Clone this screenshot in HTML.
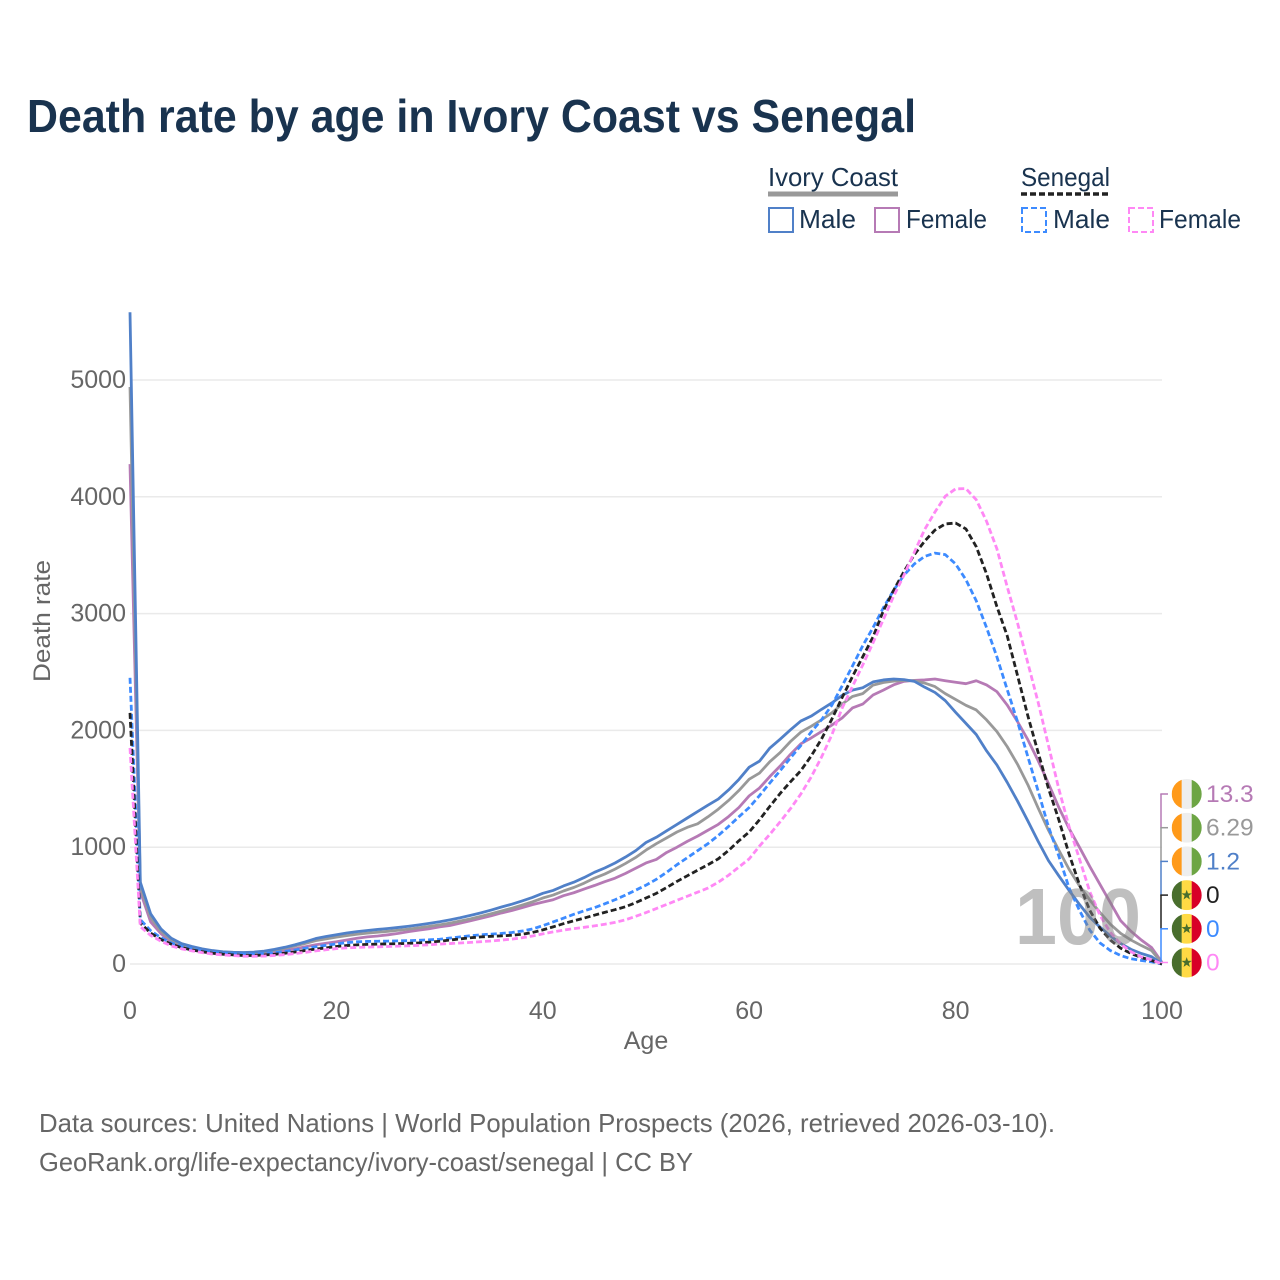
<!DOCTYPE html>
<html lang="en">
<head>
<meta charset="utf-8">
<title>Death rate by age in Ivory Coast vs Senegal</title>
<style>
  html, body { margin: 0; padding: 0; background: #fff; }
  svg { display: block; font-family: "Liberation Sans", "DejaVu Sans", sans-serif; }
</style>
</head>
<body>
<svg id="chart" xmlns="http://www.w3.org/2000/svg" width="1280" height="1280" viewBox="0 0 1280 1280">
  <rect x="0" y="0" width="1280" height="1280" fill="#fff"/>
  <text x="27" y="132" font-size="46" font-weight="700" fill="#19334f" textLength="889" lengthAdjust="spacingAndGlyphs">Death rate by age in Ivory Coast vs Senegal</text>

  <g fill="#19334f" font-size="26">
    <text x="768" y="186" textLength="130" lengthAdjust="spacingAndGlyphs">Ivory Coast</text>
    <line x1="768" x2="898" y1="194" y2="194" stroke="#999" stroke-width="5"/>
    <text x="1021" y="186" textLength="89" lengthAdjust="spacingAndGlyphs">Senegal</text>
    <line x1="1021" x2="1110" y1="194" y2="194" stroke="#222" stroke-width="3.5" stroke-dasharray="6 3"/>

    <rect x="769" y="208" width="24" height="24" fill="none" stroke="#5080c8" stroke-width="2"/>
    <text x="799" y="228" textLength="57" lengthAdjust="spacingAndGlyphs">Male</text>
    <rect x="875" y="208" width="24" height="24" fill="none" stroke="#b67ab5" stroke-width="2"/>
    <text x="906" y="228" textLength="81" lengthAdjust="spacingAndGlyphs">Female</text>
    <rect x="1022" y="208" width="24" height="24" fill="none" stroke="#3d8bff" stroke-width="2" stroke-dasharray="6 3"/>
    <text x="1053" y="228" textLength="57" lengthAdjust="spacingAndGlyphs">Male</text>
    <rect x="1129" y="208" width="24" height="24" fill="none" stroke="#ff88f5" stroke-width="2" stroke-dasharray="6 3"/>
    <text x="1159" y="228" textLength="82" lengthAdjust="spacingAndGlyphs">Female</text>
  </g>

  <g id="grid"></g>
  <g id="yTicks"></g>
  <g id="xTicks"></g>
  <text transform="translate(50 621) rotate(-90)" text-anchor="middle" font-size="24" fill="#666" textLength="122" lengthAdjust="spacingAndGlyphs">Death rate</text>
  <text x="646" y="1049" text-anchor="middle" font-size="25" fill="#666">Age</text>

  <g id="series"></g>
  <text x="1015" y="944" font-size="80" font-weight="700" fill="#808080" fill-opacity="0.5" textLength="126" lengthAdjust="spacingAndGlyphs">100</text>
  <g id="endLabels"></g>

  <text x="39" y="1132" font-size="26" fill="#666" textLength="1016" lengthAdjust="spacingAndGlyphs">Data sources: United Nations | World Population Prospects (2026, retrieved 2026-03-10).</text>
  <text x="39" y="1171" font-size="26" fill="#666" textLength="654" lengthAdjust="spacingAndGlyphs">GeoRank.org/life-expectancy/ivory-coast/senegal | CC BY</text>
</svg>
<script>
var yTickValues = [0, 1000, 2000, 3000, 4000, 5000];
var xTickValues = [0, 20, 40, 60, 80, 100];

var icMale = [
  5580,700,430,300,220,175,150,130,115,105,
  100,98,102,110,125,143,165,190,218,235,
  250,265,277,287,296,304,313,323,335,348,
  362,378,396,416,438,462,488,512,540,570,
  605,630,668,700,740,785,822,865,915,970,
  1040,1085,1140,1195,1250,1305,1360,1412,1490,1580,
  1685,1737,1849,1925,2005,2080,2122,2180,2235,2300,
  2345,2365,2415,2432,2440,2435,2420,2370,2325,2255,
  2155,2060,1965,1825,1704,1555,1395,1225,1050,885,
  755,630,510,400,315,240,175,125,90,62,1.2
];
var icTotal = [
  4940,660,400,280,205,165,142,123,110,100,
  95,93,96,104,117,135,155,177,200,215,
  230,243,255,264,272,280,289,299,310,322,
  335,350,368,386,408,430,454,478,504,532,
  565,590,625,655,692,735,770,812,860,912,
  975,1030,1080,1130,1170,1200,1260,1325,1400,1485,
  1582,1635,1732,1810,1905,1985,2035,2090,2150,2225,
  2290,2315,2388,2410,2422,2428,2425,2405,2375,2315,
  2265,2215,2175,2090,1990,1861,1710,1535,1335,1145,
  975,810,670,548,440,340,262,205,158,115,6.29
];
var icFemale = [
  4280,620,360,260,190,155,130,113,102,93,
  88,85,86,92,102,115,130,148,165,178,
  190,205,220,232,240,250,262,277,290,302,
  318,330,350,370,392,413,437,458,482,508,
  530,550,585,610,642,672,705,735,775,820,
  865,895,955,1000,1050,1095,1145,1195,1262,1340,
  1440,1507,1605,1695,1795,1885,1935,1990,2045,2106,
  2192,2225,2303,2345,2390,2420,2428,2432,2440,2425,
  2412,2400,2425,2389,2332,2217,2075,1920,1740,1545,
  1340,1160,1000,835,680,525,370,280,205,140,13.3
];
var senMale = [
  2450,380,285,225,180,150,130,113,100,92,
  88,85,85,90,97,108,120,135,148,160,
  172,183,190,193,195,196,198,200,203,207,
  212,222,232,242,250,256,262,270,282,300,
  328,360,392,425,455,482,515,550,590,632,
  675,725,785,850,910,970,1030,1100,1178,1260,
  1340,1442,1550,1655,1765,1870,1985,2090,2215,2380,
  2550,2725,2880,3050,3200,3330,3425,3490,3518,3505,
  3425,3290,3110,2880,2630,2350,2075,1775,1480,1175,
  925,650,460,290,180,115,72,45,30,18,0
];
var senTotal = [
  2150,350,265,210,170,140,120,105,92,84,
  78,73,73,77,83,92,103,116,128,138,
  150,158,164,168,170,172,174,177,181,187,
  195,205,215,225,232,237,241,246,255,270,
  292,318,345,370,393,418,442,465,490,525,
  565,605,655,707,755,803,850,900,972,1055,
  1130,1235,1350,1460,1560,1655,1780,1925,2095,2280,
  2460,2630,2800,3025,3200,3360,3505,3620,3715,3768,
  3775,3725,3573,3340,3060,2810,2470,2125,1810,1503,
  1235,940,680,460,305,205,135,90,56,30,0
];
var senFemale = [
  1850,320,245,195,155,130,112,97,85,78,
  72,67,66,68,73,80,90,100,112,122,
  132,138,142,145,147,150,153,156,160,165,
  170,175,180,185,191,197,205,213,225,240,
  258,275,290,303,314,326,340,356,378,408,
  440,475,510,545,580,615,650,700,760,830,
  900,1010,1110,1218,1330,1455,1600,1770,1960,2190,
  2375,2560,2750,2950,3150,3330,3525,3720,3870,4005,
  4068,4070,3975,3790,3555,3230,2920,2577,2240,1870,
  1500,1175,900,620,415,270,170,105,60,36,0
];

var SVG_NS = 'http://www.w3.org/2000/svg';
var PLOT_LEFT = 130, PLOT_RIGHT = 1162, AGE_MAX = 100;
var PLOT_BOTTOM = 964, PX_PER_THOUSAND = 116.8;
var GREY = '#666';

function xScale(age) { return PLOT_LEFT + (age / AGE_MAX) * (PLOT_RIGHT - PLOT_LEFT); }
function yScale(v) { return PLOT_BOTTOM - (v / 1000) * PX_PER_THOUSAND; }
function make(tag, parentId, attrs, text) {
  var el = document.createElementNS(SVG_NS, tag);
  for (var k in attrs) { el.setAttribute(k, attrs[k]); }
  if (text !== undefined) { el.textContent = text; }
  (typeof parentId === 'string' ? document.getElementById(parentId) : parentId).appendChild(el);
  return el;
}

yTickValues.forEach(function (t) {
  var line = make('line', 'grid', { x1: PLOT_LEFT, x2: PLOT_RIGHT, y1: yScale(t), y2: yScale(t), stroke: '#eaeaea', 'stroke-width': 1.5 });
  
  
  var label = make('text', 'yTicks', { x: 126, y: yScale(t) + 8, 'text-anchor': 'end', 'font-size': 25, fill: GREY }, String(t));
  
  
});
xTickValues.forEach(function (t) {
  var label = make('text', 'xTicks', { x: xScale(t), y: 1019, 'text-anchor': 'middle', 'font-size': 25, fill: GREY }, String(t));
  
  
});

function drawSeries(values, color, dashed, name) {
  var pts = values.map(function (v, i) { return xScale(i).toFixed(2) + ',' + yScale(v).toFixed(2); }).join(' ');
  var attrs = { points: pts, fill: 'none', stroke: color, 'stroke-width': 2.8, 'stroke-linejoin': 'round' };
  if (dashed) { attrs['stroke-dasharray'] = '6 3'; }
  var line = make('polyline', 'series', attrs);
  
  
}
drawSeries(icFemale, '#b67ab5', false, 'line-ivory-coast-female');
drawSeries(icTotal, '#999999', false, 'line-ivory-coast-total');
drawSeries(icMale, '#5080c8', false, 'line-ivory-coast-male');
drawSeries(senMale, '#3d8bff', true, 'line-senegal-male');
drawSeries(senTotal, '#222222', true, 'line-senegal-total');
drawSeries(senFemale, '#ff88f5', true, 'line-senegal-female');

/* End-of-line labels with country flags, stacked in value order */
var SLOT_TOP = 794, SLOT_STEP = 33.7, CONNECT_X = 1161, FLAG_X = 1186.7, FLAG_R = 15;
function drawFlag(cx, cy, country, idx) {
  var g = make('g', 'endLabels', {});
  
  
  var clipId = 'flag-clip-' + idx;
  var clip = make('clipPath', g, { id: clipId });
  make('circle', clip, { cx: cx, cy: cy, r: FLAG_R });
  var body = make('g', g, { 'clip-path': 'url(#' + clipId + ')' });
  var cols = country === 'ivory-coast' ? ['#ff9a1a', '#eeeeee', '#6da544'] : ['#496e2d', '#ffda44', '#d80027'];
  var w = FLAG_R * 2 / 3;
  cols.forEach(function (c, i) {
    make('rect', body, { x: cx - FLAG_R + i * w, y: cy - FLAG_R, width: w + 0.2, height: FLAG_R * 2, fill: c });
  });
  if (country === 'senegal') {
    var star = [];
    for (var k = 0; k < 10; k++) {
      var r = k % 2 ? 2.2 : 5.4, a = -Math.PI / 2 + k * Math.PI / 5;
      star.push((cx + r * Math.cos(a)).toFixed(2) + ',' + (cy + r * Math.sin(a)).toFixed(2));
    }
    make('polygon', body, { points: star.join(' '), fill: '#496e2d' });
  }
}
function drawEndLabel(values, color, country, idx, nextExists) {
  var cy = SLOT_TOP + idx * SLOT_STEP;
  if (nextExists) {
    var seg = make('line', 'endLabels', { x1: CONNECT_X, x2: CONNECT_X, y1: cy, y2: cy + SLOT_STEP, stroke: color, 'stroke-width': 1.5 });
    
    
  }
  var stub = make('line', 'endLabels', { x1: CONNECT_X - 0.7, x2: CONNECT_X + 7, y1: cy, y2: cy, stroke: color, 'stroke-width': 1.5 });
  
  
  drawFlag(FLAG_X, cy, country, idx);
  var end = values[values.length - 1];
  var label = make('text', 'endLabels', { x: 1206, y: cy + 8, 'font-size': 24.5, fill: color }, String(+end.toPrecision(3)));
  
  
}
drawEndLabel(icFemale, '#b67ab5', 'ivory-coast', 0, true);
drawEndLabel(icTotal, '#999999', 'ivory-coast', 1, true);
drawEndLabel(icMale, '#5080c8', 'ivory-coast', 2, true);
drawEndLabel(senTotal, '#222222', 'senegal', 3, true);
drawEndLabel(senMale, '#3d8bff', 'senegal', 4, true);
drawEndLabel(senFemale, '#ff88f5', 'senegal', 5, false);
</script>
</body>
</html>
